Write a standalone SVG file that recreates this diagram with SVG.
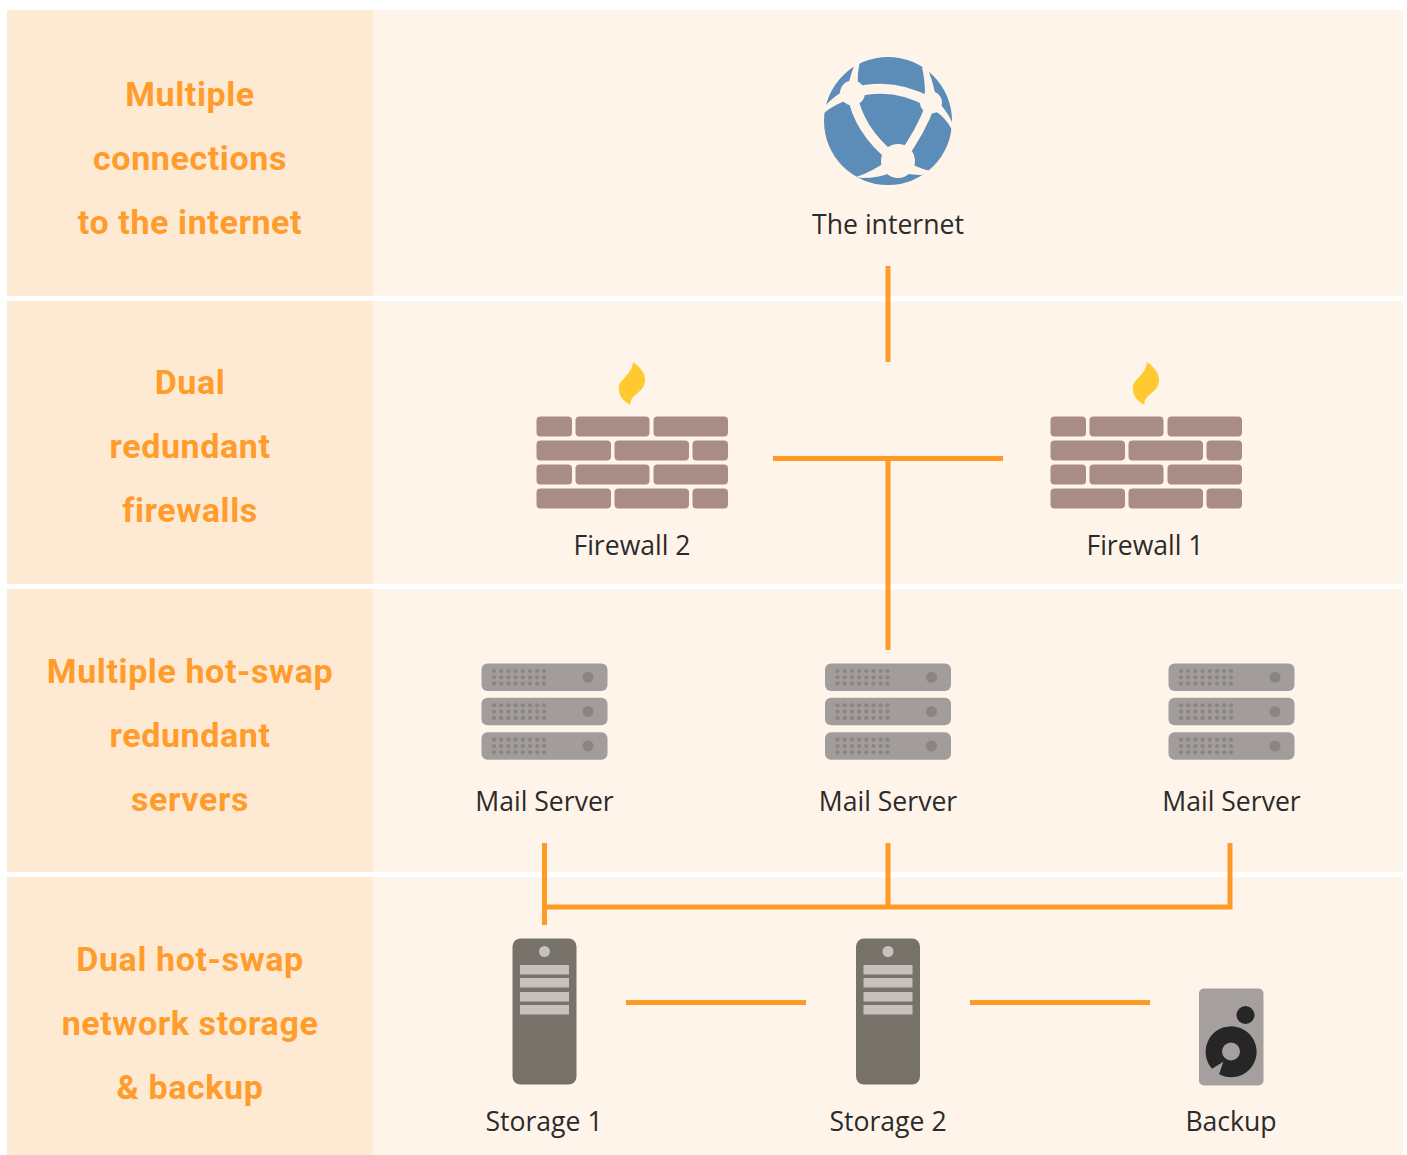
<svg xmlns="http://www.w3.org/2000/svg" xmlns:xlink="http://www.w3.org/1999/xlink" width="1407" height="1155" viewBox="0 0 1407 1155">
<style>
.l{fill:#fee9d3}.r{fill:#fff4ea}
.h{font-family:"Roboto","Liberation Sans",sans-serif;font-weight:700;font-size:34px;letter-spacing:.6px;fill:#ff9c2c;text-anchor:middle}
.t{font-family:"Open Sans","Noto Sans",sans-serif;font-size:26.6px;fill:#2b2b2b;text-anchor:middle}
.c{stroke:#ff9a27;stroke-width:5;fill:none}
.b{fill:#aa8c86}
.s{fill:#a29d9a}.n{fill:#8a8582}
</style>
<defs>
<g id="brick">
<rect class="b" x="536.500" y="416.500" width="35.500" height="20" rx="4"/><rect class="b" x="575.500" y="416.500" width="74" height="20" rx="4"/><rect class="b" x="653.500" y="416.500" width="74.500" height="20" rx="4"/>
<rect class="b" x="536.500" y="440.500" width="74.500" height="20" rx="4"/><rect class="b" x="614.500" y="440.500" width="74.500" height="20" rx="4"/><rect class="b" x="692.500" y="440.500" width="35.500" height="20" rx="4"/>
<rect class="b" x="536.500" y="464.500" width="35.500" height="20" rx="4"/><rect class="b" x="575.500" y="464.500" width="74" height="20" rx="4"/><rect class="b" x="653.500" y="464.500" width="74.500" height="20" rx="4"/>
<rect class="b" x="536.500" y="488.500" width="74.500" height="20" rx="4"/><rect class="b" x="614.500" y="488.500" width="74.500" height="20" rx="4"/><rect class="b" x="692.500" y="488.500" width="35.500" height="20" rx="4"/>
<path fill="#ffc930" d="M633 362C640 367 645.500 373 645 381C644.500 390 636 393 632.500 398C630 401 630.500 404 630.500 405C625 402 618.500 397 618.800 388C619 379 632 375 633 362Z"/>
</g>
<g id="row">
<rect class="s" x="481.500" y="663.500" width="126" height="27.500" rx="6"/>
<g class="n"><circle cx="494" cy="671" r="2.100"/><circle cx="501.200" cy="671" r="2.100"/><circle cx="508.400" cy="671" r="2.100"/><circle cx="515.600" cy="671" r="2.100"/><circle cx="522.800" cy="671" r="2.100"/><circle cx="530" cy="671" r="2.100"/><circle cx="537.200" cy="671" r="2.100"/><circle cx="544" cy="671" r="2.100"/>
<circle cx="494" cy="677.300" r="2.100"/><circle cx="501.200" cy="677.300" r="2.100"/><circle cx="508.400" cy="677.300" r="2.100"/><circle cx="515.600" cy="677.300" r="2.100"/><circle cx="522.800" cy="677.300" r="2.100"/><circle cx="530" cy="677.300" r="2.100"/><circle cx="537.200" cy="677.300" r="2.100"/><circle cx="544" cy="677.300" r="2.100"/>
<circle cx="494" cy="683.600" r="2.100"/><circle cx="501.200" cy="683.600" r="2.100"/><circle cx="508.400" cy="683.600" r="2.100"/><circle cx="515.600" cy="683.600" r="2.100"/><circle cx="522.800" cy="683.600" r="2.100"/><circle cx="530" cy="683.600" r="2.100"/><circle cx="537.200" cy="683.600" r="2.100"/><circle cx="544" cy="683.600" r="2.100"/>
<circle cx="588" cy="677.300" r="5.500"/></g>
</g>
<g id="server"><use xlink:href="#row"/><use xlink:href="#row" y="34.300"/><use xlink:href="#row" y="68.700"/></g>
<g id="disk">
<rect x="512.500" y="938.500" width="64" height="146" rx="8" fill="#767269"/>
<circle cx="544.500" cy="951.500" r="5.500" fill="#c6c1bc"/>
<rect x="520" y="965" width="49" height="9.500" fill="#c6c1bc"/><rect x="520" y="978" width="49" height="9.500" fill="#c6c1bc"/><rect x="520" y="992" width="49" height="9.500" fill="#c6c1bc"/><rect x="520" y="1005" width="49" height="9.500" fill="#c6c1bc"/>
</g>
</defs>
<g id="bands">
<rect class="l" x="7" y="10" width="366" height="286"/><rect class="r" x="373" y="10" width="1030" height="286"/>
<rect class="l" x="7" y="301" width="366" height="283"/><rect class="r" x="373" y="301" width="1030" height="283"/>
<rect class="l" x="7" y="589" width="366" height="283"/><rect class="r" x="373" y="589" width="1030" height="283"/>
<rect class="l" x="7" y="877" width="366" height="278"/><rect class="r" x="373" y="877" width="1030" height="278"/>
</g>
<g id="headings">
<text class="h" x="190" y="106">Multiple</text><text class="h" x="190" y="170">connections</text><text class="h" x="190" y="234">to the internet</text>
<text class="h" x="190" y="394">Dual</text><text class="h" x="190" y="458">redundant</text><text class="h" x="190" y="522">firewalls</text>
<text class="h" x="190" y="683">Multiple hot-swap</text><text class="h" x="190" y="747">redundant</text><text class="h" x="190" y="811">servers</text>
<text class="h" x="190" y="971">Dual hot-swap</text><text class="h" x="190" y="1035">network storage</text><text class="h" x="190" y="1099">&amp; backup</text>
</g>
<g id="connectors">
<path class="c" d="M888 266V362"/>
<path class="c" d="M773 458.500H1003"/>
<path class="c" d="M888 458.500V650"/>
<path class="c" d="M544.500 843V925"/>
<path class="c" d="M888 843V907"/>
<path class="c" d="M1230 843V907H544.500"/>
<path class="c" d="M626 1002.500H806"/>
<path class="c" d="M970 1002.500H1150"/>
</g>
<g id="internet">
<circle cx="888" cy="121" r="64" fill="#5b8db8"/>
<g stroke="#fff4ea" fill="none">
<path stroke-width="10" d="M852 93Q893 81 931 103"/>
<path stroke-width="10" d="M852 93Q858 130 893 158"/>
<path stroke-width="9" d="M931 103Q922 130 900 160"/>
</g>
<path fill="#fff4ea" d="M848 85Q851 74 855 63L860 61Q857 74 858 85ZM845 90Q834 96 824 107V113Q835 104 848 100ZM925 95Q925 80 922 67L928 69Q933 82 936 97ZM938 102Q947 111 952 122V130Q945 116 933 110ZM888 160Q872 172 856 177L862 178Q880 178 892 172ZM908 162Q918 168 930 171L922 175Q910 175 900 172Z"/>
<circle cx="852.500" cy="93" r="12.500" fill="#fff4ea"/><circle cx="931" cy="102.500" r="11" fill="#fff4ea"/><circle cx="898" cy="161" r="17" fill="#fff4ea"/>
<text class="t" x="888" y="234">The internet</text>
</g>
<g id="firewall2"><use xlink:href="#brick"/><text class="t" x="632" y="555">Firewall 2</text></g>
<g id="firewall1"><use xlink:href="#brick" x="514"/><text class="t" x="1145" y="555">Firewall 1</text></g>
<g id="mail1"><use xlink:href="#server"/><text class="t" x="544.500" y="811">Mail Server</text></g>
<g id="mail2"><use xlink:href="#server" x="343.500"/><text class="t" x="888" y="811">Mail Server</text></g>
<g id="mail3"><use xlink:href="#server" x="687"/><text class="t" x="1231.500" y="811">Mail Server</text></g>
<g id="storage1"><use xlink:href="#disk"/><text class="t" x="544" y="1131">Storage 1</text></g>
<g id="storage2"><use xlink:href="#disk" x="343.500"/><text class="t" x="888" y="1131">Storage 2</text></g>
<g id="backup">
<rect x="1199" y="988.500" width="64.500" height="97" rx="5" fill="#a5a09d"/>
<circle cx="1245.500" cy="1015" r="9" fill="#262626"/>
<path fill="#262626" d="M1212.100 1068.800A25.500 25.500 0 1 1 1219.100 1074.300L1223.300 1061.700Z"/>
<circle cx="1231" cy="1051.500" r="9" fill="#a5a09d"/>
<text class="t" x="1231" y="1131">Backup</text>
</g>
</svg>
